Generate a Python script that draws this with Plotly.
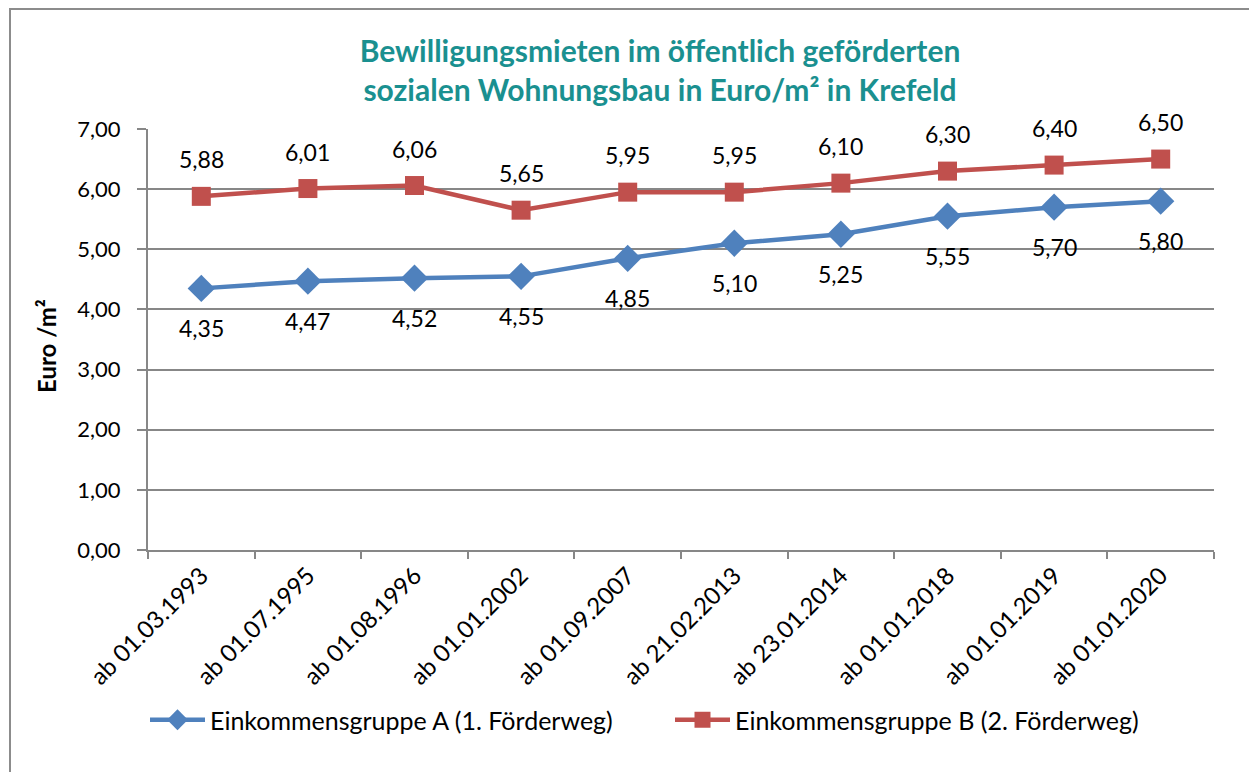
import plotly.graph_objects as go

categories = ["ab 01.03.1993", "ab 01.07.1995", "ab 01.08.1996", "ab 01.01.2002",
              "ab 01.09.2007", "ab 21.02.2013", "ab 23.01.2014", "ab 01.01.2018",
              "ab 01.01.2019", "ab 01.01.2020"]
gruppe_a = [4.35, 4.47, 4.52, 4.55, 4.85, 5.10, 5.25, 5.55, 5.70, 5.80]
gruppe_b = [5.88, 6.01, 6.06, 5.65, 5.95, 5.95, 6.10, 6.30, 6.40, 6.50]
y_ticks = [0, 1, 2, 3, 4, 5, 6, 7]
y_ticklabels = ["0,00", "1,00", "2,00", "3,00", "4,00", "5,00", "6,00", "7,00"]

BLUE = "#4F81BD"
RED = "#C0504D"
GRID = "#878787"
FONT = "Lato"

W, H = 1249, 764
L, T, PW, PH = 140, 121, 1066, 421
R = W - L - PW
B = H - T - PH

def fmt(v):
    return f"{v:.2f}".replace(".", ",")

def px_x(x):
    return (x - L) / PW

def px_y(y):
    return (T + PH - y) / PH

fig = go.Figure()
fig.add_trace(go.Scatter(
    x=categories, y=gruppe_a, mode="lines+markers",
    name="Einkommensgruppe A (1. Förderweg)",
    line=dict(color=BLUE, width=4.5),
    marker=dict(symbol="diamond", size=21, color=BLUE),
))
fig.add_trace(go.Scatter(
    x=categories, y=gruppe_b, mode="lines+markers",
    name="Einkommensgruppe B (2. Förderweg)",
    line=dict(color=RED, width=4.5),
    marker=dict(symbol="square", size=19, color=RED),
))

annotations = []
for c, v in zip(categories, gruppe_a):
    annotations.append(dict(x=c, y=v, text=fmt(v), showarrow=False, yshift=-40,
                            font=dict(family=FONT, size=23, color="#000000")))
for c, v in zip(categories, gruppe_b):
    annotations.append(dict(x=c, y=v, text=fmt(v), showarrow=False, yshift=37,
                            font=dict(family=FONT, size=23, color="#000000")))
annotations.append(dict(
    x=px_x(38), xref="paper", y=px_y(338), yref="paper",
    xanchor="center", yanchor="middle", textangle=-90,
    text="<b>Euro /m²</b>", showarrow=False,
    font=dict(family=FONT, size=24, color="#000000")))

fig.update_layout(
    width=W, height=H,
    margin=dict(l=L, r=R, t=T, b=B),
    paper_bgcolor="white", plot_bgcolor="white",
    font=dict(family=FONT, size=22, color="#000000"),
    title=dict(
        text="<b>Bewilligungsmieten im öffentlich geförderten<br>sozialen Wohnungsbau in Euro/m² in Krefeld</b>",
        x=652 / W, xanchor="center", y=1 - 54 / H, yanchor="middle",
        font=dict(family=FONT, size=30, color="#1A9090"),
    ),
    xaxis=dict(
        type="category", range=[-0.5, 9.5],
        tickangle=-45, tickfont=dict(family=FONT, size=24),
        showline=True, linecolor=GRID, linewidth=2,
        ticks="outside", ticklen=7, tickcolor=GRID, tickwidth=2,
        tickson="boundaries", showgrid=False,
    ),
    yaxis=dict(
        range=[0, 7], tickvals=y_ticks, ticktext=y_ticklabels,
        tickfont=dict(family=FONT, size=22), ticklabelstandoff=12,
        showline=True, linecolor=GRID, linewidth=2,
        ticks="outside", ticklen=9, tickcolor=GRID, tickwidth=2,
        showgrid=True, gridcolor=GRID, gridwidth=1.5,
        zeroline=False,
    ),
    legend=dict(
        orientation="h", x=px_x(137), xanchor="left", y=px_y(712), yanchor="middle",
        font=dict(family=FONT, size=25), itemwidth=55,
        entrywidth=455, entrywidthmode="pixels",
        traceorder="normal",
    ),
    showlegend=True,
    annotations=annotations,
    shapes=[dict(type="rect", xref="paper", yref="paper",
                 x0=px_x(2), x1=px_x(1247),
                 y0=px_y(H + 10), y1=px_y(1),
                 line=dict(color="#8C8C8C", width=2), layer="below")],
)

fig.write_html("out.html")
